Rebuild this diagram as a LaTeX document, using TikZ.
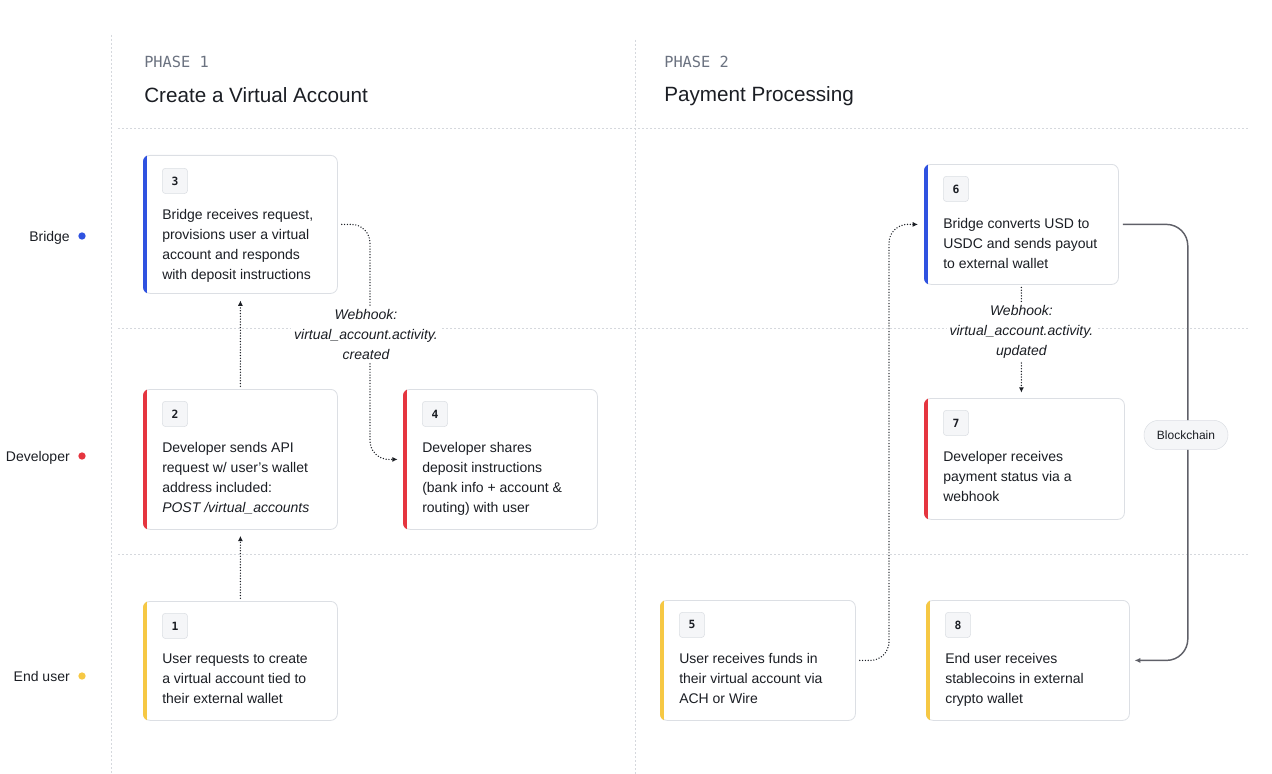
\documentclass[tikz,border=0pt]{standalone}
\usepackage{fontspec}
\setmainfont{Liberation Sans}
\setmonofont{DejaVu Sans Mono}
\usetikzlibrary{arrows.meta,positioning}

\definecolor{ink}{HTML}{1B1E24}
\definecolor{muted}{HTML}{6B7280}
\definecolor{gridc}{HTML}{D5D8DD}
\definecolor{cardline}{HTML}{DCDFE4}
\definecolor{badgefill}{HTML}{F5F6F8}
\definecolor{bridgeblue}{HTML}{2F52E0}
\definecolor{devred}{HTML}{E5353F}
\definecolor{useryellow}{HTML}{F6C844}
\definecolor{chainline}{HTML}{5F6068}

\tikzset{
  grid line/.style={gridc, line width=0.6pt, dash pattern=on 1.5pt off 1.5pt},
  card/.style={draw=cardline, line width=0.6pt, fill=white, rounded corners=5pt, anchor=north west, inner sep=0pt},
  badge/.style={draw=cardline, fill=badgefill, rounded corners=2.5pt, anchor=north west, minimum size=19pt, inner sep=0pt, font=\ttfamily\bfseries\fontsize{8.5}{8.5}\selectfont, text=ink},
  steptext/.style={anchor=north west, align=left, inner sep=0pt, font=\fontsize{10.5}{15}\selectfont, text=ink},
  lane/.style={anchor=base east, inner sep=0pt, font=\fontsize{10.5}{12}\selectfont, text=ink},
  lanedot/.style={circle, fill=#1, minimum size=5.5pt, inner sep=0pt},
  phase/.style={anchor=base west, inner sep=0pt, font=\ttfamily\fontsize{11.5}{12}\selectfont, text=muted},
  title/.style={anchor=base west, inner sep=0pt, font=\fontsize{15.5}{18}\selectfont, text=ink},
  flow/.style={ink, line width=1.1pt, line cap=round, dash pattern=on 0pt off 2.1pt, rounded corners=14pt, -{Latex[length=4pt,width=3.8pt]}},
  hook/.style={fill=white, align=center, inner sep=2pt, font=\itshape\fontsize{10.5}{15}\selectfont, text=ink},
  chain/.style={chainline, line width=1.1pt, rounded corners=16pt, -{Latex[length=4.5pt,width=4pt]}},
  pill/.style={draw=cardline, fill=badgefill, rounded corners=11pt, minimum width=63pt, minimum height=22pt, inner sep=0pt, font=\fontsize{9}{10}\selectfont, text=ink}
}

\begin{document}
\begin{tikzpicture}[x=0.75pt, y=-0.75pt]
  \useasboundingbox (0,0) rectangle (1272,774);

  % lanes and phases
  \draw[grid line] (111,35) -- (111,774);
  \draw[grid line] (635,40) -- (635,774);
  \foreach \y in {128,328,554}
    \draw[grid line] (118,\y) -- (1250,\y);

  \node[phase] (p1) at (144,68) {PHASE 1};
  \node[title] (p1t) at (144,103) {Create a Virtual Account};
  \node[phase] (p2) at (664,68) {PHASE 2};
  \node[title] (p2t) at (664,102) {Payment Processing};

  \node[lane] (lb) at (70,241) {Bridge};
  \node[lanedot=bridgeblue] (db) at (82,236) {};
  \node[lane] (ld) at (70,461) {Developer};
  \node[lanedot=devred] (dd) at (82,456) {};
  \node[lane] (lu) at (70,681) {End user};
  \node[lanedot=useryellow] (du) at (82,676) {};

  % phase 1
  \node[card, minimum width=145.5pt, minimum height=103.5pt] (s3) at (143,155) {};
  \node[badge] (n3) at ([shift={(19,13)}]s3.north west) {3};
  \node[steptext] (t3) at ([shift={(19,54)}]s3.north west) {Bridge receives request,\\provisions user a virtual\\account and responds\\with deposit instructions};

  \node[card, minimum width=145.5pt, minimum height=105pt] (s2) at (143,389) {};
  \node[badge] (n2) at ([shift={(19,12)}]s2.north west) {2};
  \node[steptext] (t2) at ([shift={(19,53)}]s2.north west) {Developer sends API\\request w/ user’s wallet\\address included:\\\textit{POST /virtual\_accounts}};

  \node[card, minimum width=145.5pt, minimum height=105pt] (s4) at (403,389) {};
  \node[badge] (n4) at ([shift={(19,12)}]s4.north west) {4};
  \node[steptext] (t4) at ([shift={(19,53)}]s4.north west) {Developer shares\\deposit instructions\\(bank info + account \&\\routing) with user};

  \node[card, minimum width=145.5pt, minimum height=89.25pt] (s1) at (143,601) {};
  \node[badge] (n1) at ([shift={(19,12)}]s1.north west) {1};
  \node[steptext] (t1) at ([shift={(19,53)}]s1.north west) {User requests to create\\a virtual account tied to\\their external wallet};

  % phase 2
  \node[card, minimum width=145.5pt, minimum height=90pt] (s6) at (924,164) {};
  \node[badge] (n6) at ([shift={(19,12)}]s6.north west) {6};
  \node[steptext] (t6) at ([shift={(19,54)}]s6.north west) {Bridge converts USD to\\USDC and sends payout\\to external wallet};

  \node[card, minimum width=150pt, minimum height=90.75pt] (s7) at (924,398) {};
  \node[badge] (n7) at ([shift={(19,12)}]s7.north west) {7};
  \node[steptext] (t7) at ([shift={(19,53)}]s7.north west) {Developer receives\\payment status via a\\webhook};

  \node[card, minimum width=146.25pt, minimum height=90pt] (s5) at (660,600) {};
  \node[badge] (n5) at ([shift={(19,12)}]s5.north west) {5};
  \node[steptext] (t5) at ([shift={(19,53)}]s5.north west) {User receives funds in\\their virtual account via\\ACH or Wire};

  \node[card, minimum width=152.25pt, minimum height=90pt] (s8) at (926,600) {};
  \node[badge] (n8) at ([shift={(19,12)}]s8.north west) {8};
  \node[steptext] (t8) at ([shift={(19,53)}]s8.north west) {End user receives\\stablecoins in external\\crypto wallet};

  % lane colour on the left edge of each card
  \foreach \c/\col in {s3/bridgeblue, s6/bridgeblue, s2/devred, s4/devred, s7/devred, s1/useryellow, s5/useryellow, s8/useryellow} {
    \begin{scope}
      \clip[rounded corners=5pt] (\c.south west) rectangle (\c.north east);
      \fill[\col] (\c.south west) rectangle ([xshift=3pt]\c.north west);
    \end{scope}
  }

  % connectors
  \draw[flow] ([yshift=2pt]s1.north) -- ([yshift=-4.5pt]s2.south);
  \draw[flow] ([yshift=2pt]s2.north) -- ([yshift=-5pt]s3.south);
  \draw[flow] ([xshift=3pt]s3.east) -| ([xshift=-24.75pt]s4.west) -- ([xshift=-4pt]s4.west);
  \node[hook] (w1) at (366,334) {Webhook:\\virtual\_account.activity.\\created};

  \draw[flow] ([xshift=3pt]s5.east) -| ([xshift=-26.25pt]s6.west) -- ([xshift=-4.5pt]s6.west);
  \draw[flow] ([yshift=-2pt]s6.south) -- ([yshift=4pt]s6.south |- s7.north)
    node[hook, pos=.42] (w2) {Webhook:\\virtual\_account.activity.\\updated};

  \draw[chain] ([xshift=3pt]s6.east) -| ([xshift=43.5pt]s8.east) -- ([xshift=3.5pt]s8.east);
  \node[pill] (bc) at (1186,435) {Blockchain};
\end{tikzpicture}
\end{document}
